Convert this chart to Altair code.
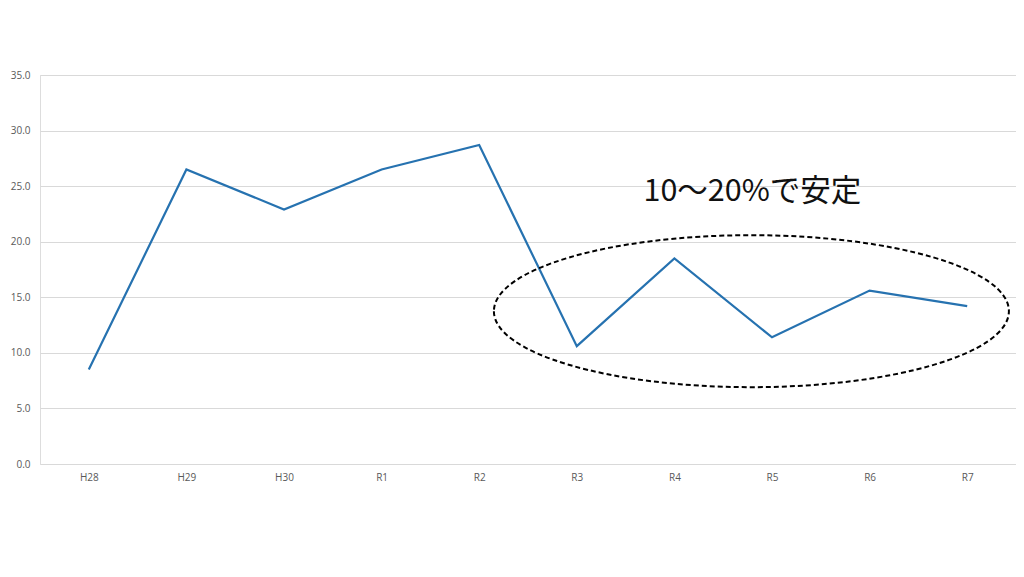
import altair as alt
import pandas as pd

years = ["H28", "H29", "H30", "R1", "R2", "R3", "R4", "R5", "R6", "R7"]
values = [8.5, 26.5, 22.9, 26.5, 28.7, 10.6, 18.5, 11.4, 15.6, 14.2]

note_text = ["10～20%で安定"]
note_x = ["R4"]
note_y = [23.7]
ellipse_x = ["R4"]
ellipse_y = [13.75]

df = pd.DataFrame({"year": years, "value": values})
note_df = pd.DataFrame({"year": note_x, "value": note_y, "label": note_text})
ell_df = pd.DataFrame({"year": ellipse_x, "value": ellipse_y})

xenc = alt.X("year:N", sort=years, title=None,
             scale=alt.Scale(type="point", padding=0.5),
             axis=alt.Axis(labelAngle=0, ticks=False, domain=False, grid=False,
                           labelFontSize=10, labelColor="#595959",
                           labelFont="Open Sans", labelPadding=8))
yenc = alt.Y("value:Q", title=None,
             scale=alt.Scale(domain=[0, 35], nice=False),
             axis=alt.Axis(values=[0, 5, 10, 15, 20, 25, 30, 35], format=".1f",
                           ticks=False, domain=False, grid=True,
                           gridColor="#d9d9d9", gridWidth=1,
                           labelFontSize=10, labelColor="#595959",
                           labelFont="Open Sans", labelPadding=10))

line = alt.Chart(df).mark_line(color="#2672B0", strokeWidth=2.2).encode(x=xenc, y=yenc)

ratio = 76 / 257.5
path = f"M -1 0 A 1 {ratio:.4f} 0 1 0 1 0 A 1 {ratio:.4f} 0 1 0 -1 0 Z"
ellipse = alt.Chart(ell_df).mark_point(
    shape=path, size=515 ** 2, filled=False, stroke="#000000", strokeWidth=2,
    strokeDash=[5, 3], opacity=1, xOffset=77
).encode(x=alt.X("year:N", sort=years), y="value:Q")

note = alt.Chart(note_df).mark_text(
    font="Noto Sans CJK JP", fontSize=30.5, color="#111111", align="center",
    baseline="alphabetic", xOffset=78
).encode(x=alt.X("year:N", sort=years), y="value:Q", text="label:N")

chart = alt.layer(line, ellipse, note).properties(
    width=976, height=389,
    autosize=alt.AutoSizeParams(type="none"),
    padding={"left": 32, "top": 67, "right": 0, "bottom": 60},
).configure_view(stroke=None).configure(background="white")

chart.save("out.html", embed_options={"renderer": "svg", "actions": False})
